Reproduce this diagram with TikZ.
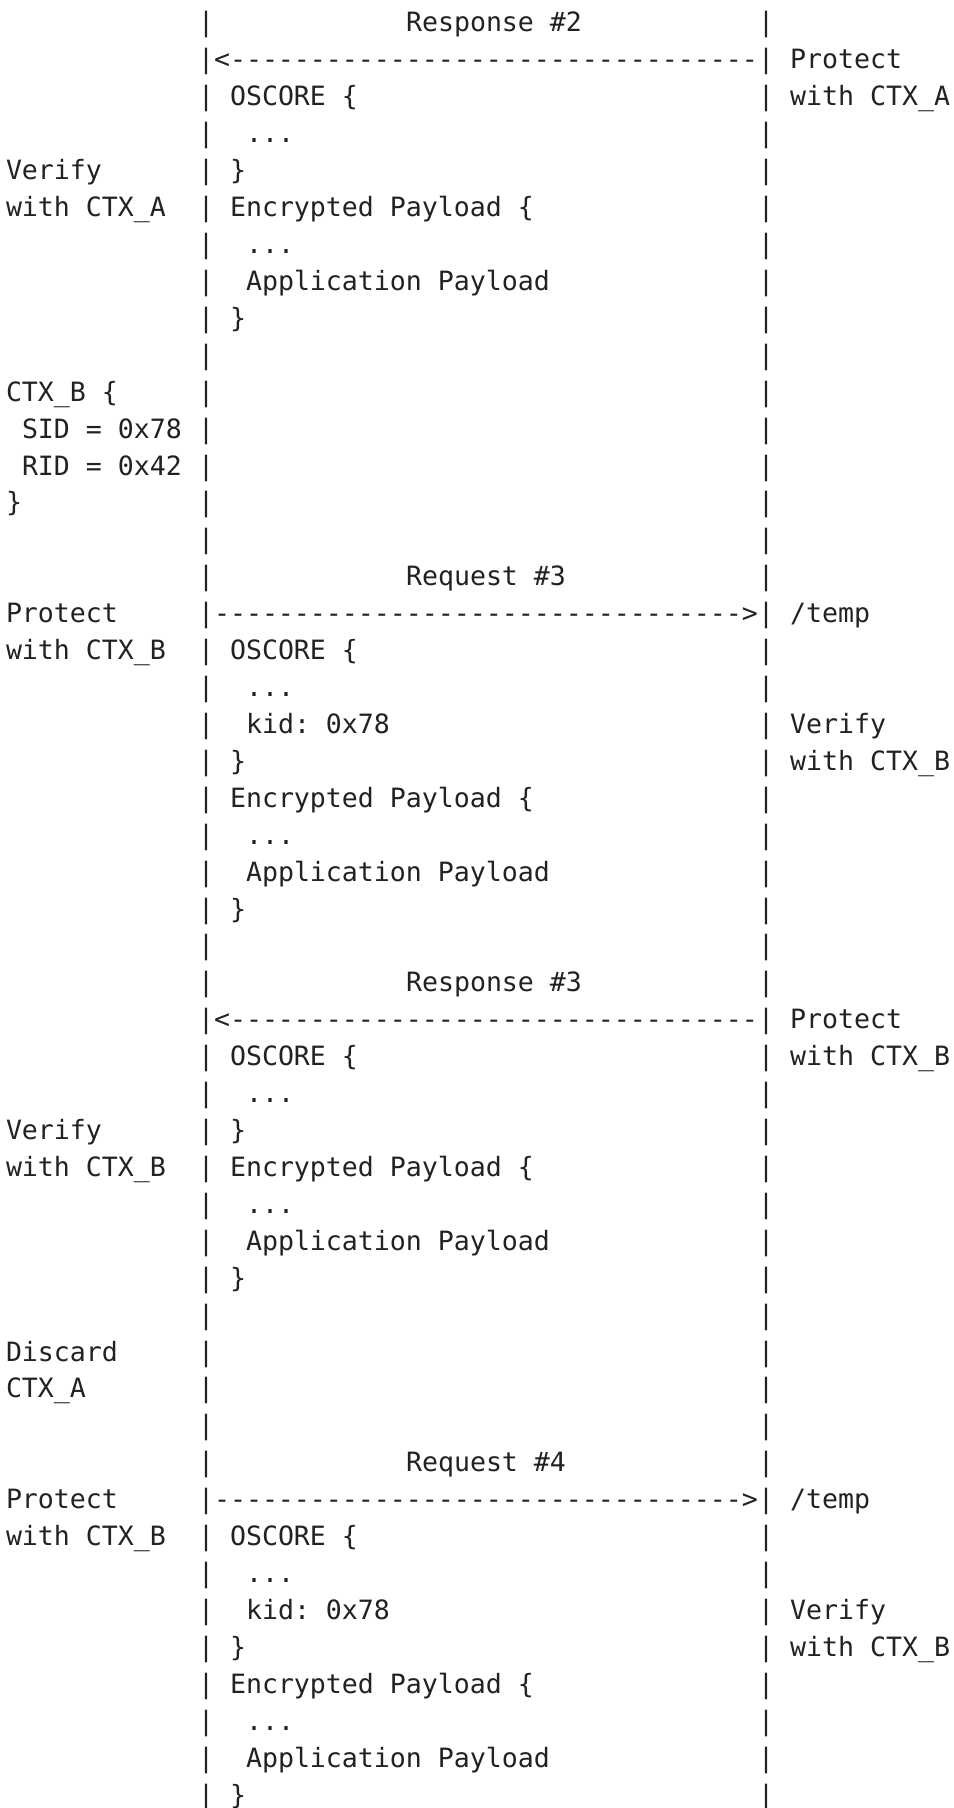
\documentclass[tikz,border=0pt]{standalone}
\usepackage{fontspec}
\setmonofont{DejaVu Sans Mono}
\definecolor{ink}{HTML}{222222}
\newcommand\seg[4]{\node[txt] (#1) at ({6+16*(#3)},{-(32+((#2)-1)*36.917)}) {#4};}
\begin{document}
\begin{tikzpicture}[x=0.5pt,y=0.5pt,
  txt/.style={anchor=base west,inner sep=0pt,outer sep=0pt,text=ink,
    font=\ttfamily\fontsize{13.288pt}{16pt}\selectfont}]
\useasboundingbox (0,0) rectangle (953,-1808);
\fill[white] (0,0) rectangle (953,-1808);
% lifelines
\foreach \r in {1,...,49}{
  \seg{L\r}{\r}{12}{|}
  \seg{R\r}{\r}{47}{|}
}
% block 1
\seg{t1}{1}{25}{Response \#2}
\seg{a2}{2}{13}{<---------------------------------}
\seg{p2}{2}{49}{Protect}
\seg{o3}{3}{14}{OSCORE \{}
\seg{p3}{3}{49}{with CTX\_A}
\seg{d4}{4}{15}{...}
\seg{v5}{5}{0}{Verify}
\seg{c5}{5}{14}{\}}
\seg{v6}{6}{0}{with CTX\_A}
\seg{e6}{6}{14}{Encrypted Payload \{}
\seg{d7}{7}{15}{...}
\seg{ap8}{8}{15}{Application Payload}
\seg{c9}{9}{14}{\}}
% context B
\seg{x11}{11}{0}{CTX\_B \{}
\seg{x12}{12}{1}{SID = 0x78}
\seg{x13}{13}{1}{RID = 0x42}
\seg{x14}{14}{0}{\}}
% request 3
\seg{t16}{16}{25}{Request \#3}
\seg{q17}{17}{0}{Protect}
\seg{a17}{17}{13}{--------------------------------->}
\seg{u17}{17}{49}{/temp}
\seg{q18}{18}{0}{with CTX\_B}
\seg{o18}{18}{14}{OSCORE \{}
\seg{d19}{19}{15}{...}
\seg{k20}{20}{15}{kid: 0x78}
\seg{w20}{20}{49}{Verify}
\seg{c21}{21}{14}{\}}
\seg{w21}{21}{49}{with CTX\_B}
\seg{e22}{22}{14}{Encrypted Payload \{}
\seg{d23}{23}{15}{...}
\seg{ap24}{24}{15}{Application Payload}
\seg{c25}{25}{14}{\}}
% response 3
\seg{t27}{27}{25}{Response \#3}
\seg{a28}{28}{13}{<---------------------------------}
\seg{p28}{28}{49}{Protect}
\seg{o29}{29}{14}{OSCORE \{}
\seg{p29}{29}{49}{with CTX\_B}
\seg{d30}{30}{15}{...}
\seg{v31}{31}{0}{Verify}
\seg{c31}{31}{14}{\}}
\seg{v32}{32}{0}{with CTX\_B}
\seg{e32}{32}{14}{Encrypted Payload \{}
\seg{d33}{33}{15}{...}
\seg{ap34}{34}{15}{Application Payload}
\seg{c35}{35}{14}{\}}
% discard
\seg{g37}{37}{0}{Discard}
\seg{g38}{38}{0}{CTX\_A}
% request 4
\seg{t40}{40}{25}{Request \#4}
\seg{q41}{41}{0}{Protect}
\seg{a41}{41}{13}{--------------------------------->}
\seg{u41}{41}{49}{/temp}
\seg{q42}{42}{0}{with CTX\_B}
\seg{o42}{42}{14}{OSCORE \{}
\seg{d43}{43}{15}{...}
\seg{k44}{44}{15}{kid: 0x78}
\seg{w44}{44}{49}{Verify}
\seg{c45}{45}{14}{\}}
\seg{w45}{45}{49}{with CTX\_B}
\seg{e46}{46}{14}{Encrypted Payload \{}
\seg{d47}{47}{15}{...}
\seg{ap48}{48}{15}{Application Payload}
\seg{c49}{49}{14}{\}}
\end{tikzpicture}
\end{document}
